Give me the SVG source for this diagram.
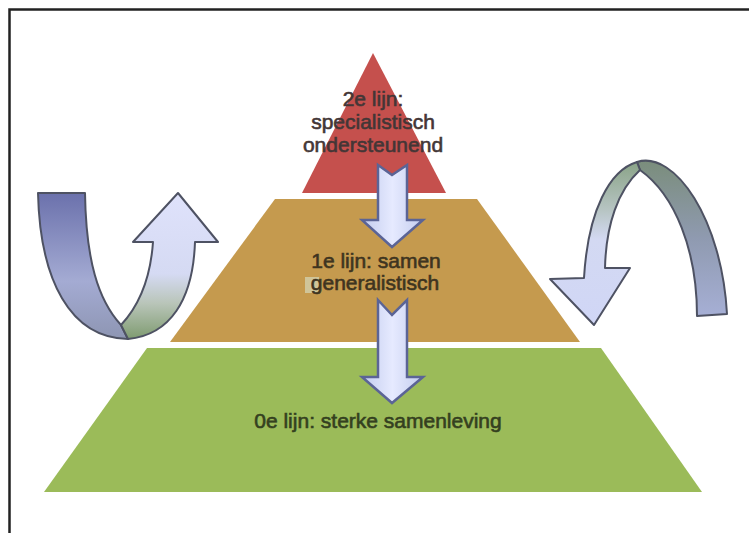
<svg xmlns="http://www.w3.org/2000/svg" width="749" height="533" viewBox="0 0 749 533">
<style>
.lbl{font-family:"Liberation Sans",Arial,sans-serif;font-size:21px;text-anchor:middle;stroke-width:0.6;}
.arr{stroke:#5b6496;stroke-width:2.5;stroke-linejoin:miter;fill:url(#gDown);}
.rib{stroke:#4e5263;stroke-width:2;stroke-linejoin:round;}
</style>
<defs>
<linearGradient id="gDown" x1="0" y1="0" x2="1" y2="0">
<stop offset="0" stop-color="#c3ccee"/><stop offset="0.5" stop-color="#e6eaff"/><stop offset="1" stop-color="#c3ccee"/>
</linearGradient>
<linearGradient id="gLBack" gradientUnits="userSpaceOnUse" x1="0" y1="193" x2="0" y2="340">
<stop offset="0" stop-color="#6b71ac"/><stop offset="0.6" stop-color="#a4abd3"/><stop offset="1" stop-color="#8d95b2"/>
</linearGradient>
<linearGradient id="gLFront" gradientUnits="userSpaceOnUse" x1="0" y1="193" x2="0" y2="340">
<stop offset="0" stop-color="#dfe2fb"/><stop offset="0.55" stop-color="#d5daf3"/><stop offset="0.75" stop-color="#b9c5b9"/><stop offset="1" stop-color="#7d9a6e"/>
</linearGradient>
<linearGradient id="gRBack" gradientUnits="userSpaceOnUse" x1="0" y1="160" x2="0" y2="316">
<stop offset="0" stop-color="#7a8d7b"/><stop offset="0.5" stop-color="#8f9ab0"/><stop offset="1" stop-color="#a6afd5"/>
</linearGradient>
<linearGradient id="gRFront" gradientUnits="userSpaceOnUse" x1="0" y1="160" x2="0" y2="325">
<stop offset="0" stop-color="#88a285"/><stop offset="0.3" stop-color="#b6c4c2"/><stop offset="0.48" stop-color="#d3d9f2"/><stop offset="1" stop-color="#d0d6f6"/>
</linearGradient>
</defs>
<rect width="749" height="533" fill="#ffffff"/>
<path d="M9.5,533 V9.5 H749" fill="none" stroke="#222222" stroke-width="2.5"/>

<g id="level0">
<polygon points="147,348 601,348 702,492 44,492" fill="#9bbb59"/>
<text class="lbl" x="378" y="428" fill="#34401f" stroke="#34401f">0e lijn: sterke samenleving</text>
</g>

<g id="level1">
<polygon points="275,199 477,199 580,342 170,342" fill="#c59a4e"/>
<rect x="305" y="277" width="14" height="16" fill="#d2cfad" opacity="0.8"/>
<text class="lbl" x="376" y="268" fill="#3e3420" stroke="#3e3420">1e lijn: samen</text>
<text class="lbl" x="375" y="290" fill="#3e3420" stroke="#3e3420">generalistisch</text>
</g>

<g id="level2">
<polygon points="373,53 446,193 302,193" fill="#c5504d"/>
<text class="lbl" x="373" y="106" fill="#433636" stroke="#433636">2e lijn:</text>
<text class="lbl" x="373" y="129" fill="#433636" stroke="#433636">specialistisch</text>
<text class="lbl" x="373" y="152" fill="#433636" stroke="#433636">ondersteunend</text>
</g>

<g id="connectors">
<path class="arr" d="M378,165 L392,175 L407,165 L407,220 L423,220 L392,247 L362,220 L378,220 Z"/>
<path class="arr" d="M378,300 L392,315 L407,300 L407,377 L423,377 L392,403 L362,377 L378,377 Z"/>
</g>

<g id="leftArrow">
<path class="rib" fill="url(#gLBack)" d="M38,193 L85,193 C86,260 98,300 121,325 L128,339 C70,338 40,280 38,193 Z"/>
<path class="rib" fill="url(#gLFront)" d="M121,325 C135,310 150,285 153,242 L133,242 L178,193 L218,242 L195,242 C193,300 170,335 128,339 Z"/>
</g>

<g id="rightArrow">
<path class="rib" fill="url(#gRBack)" d="M637,162 C675,150 722,220 727,314 L697,316 C697,250 675,195 640,170 Z"/>
<path class="rib" fill="url(#gRFront)" d="M637,162 C610,170 588,210 584,278 L550,279 L594,325 L630,268 L605,268 C606,225 618,190 640,170 Z"/>
</g>
</svg>
